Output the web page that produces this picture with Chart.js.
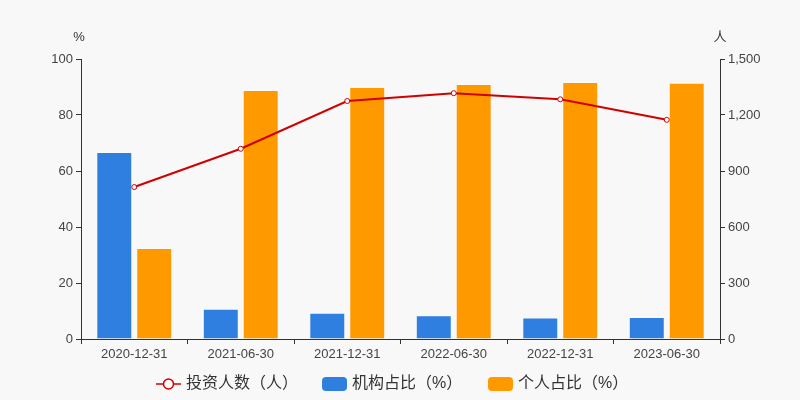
<!DOCTYPE html>
<html>
<head>
<meta charset="utf-8">
<script src="https://cdn.jsdelivr.net/npm/chart.js@4"></script>
<style>
  html, body { margin: 0; padding: 0; background: #f8f8f8; }
  #wrap { width: 800px; height: 400px; }
</style>
</head>
<body>
<div id="wrap"><canvas id="holdersChart" width="800" height="400"></canvas></div>
<script>
// Chart data
const dates = ['2020-12-31', '2021-06-30', '2021-12-31', '2022-06-30', '2022-12-31', '2023-06-30'];
const investors = [814, 1019, 1275, 1317, 1284, 1174];
const institutionPct = [66.8, 10.8, 9.4, 8.5, 7.7, 7.9];
const personalPct = [32.5, 88.9, 90.0, 91.1, 91.8, 91.5];
const pctTicks = [0, 20, 40, 60, 80, 100];
const peopleTicks = [0, 300, 600, 900, 1200, 1500];

const FONT = "'Liberation Sans', 'Noto Sans CJK SC', sans-serif";
const AXIS_COLOR = '#333';
const TEXT_COLOR = '#444';

const legendItems = [
    { label: '投资人数（人）', type: 'line', color: '#d00000' },
    { label: '机构占比（%）', type: 'box', color: '#2e7fe0' },
    { label: '个人占比（%）', type: 'box', color: '#ff9900' }
];

// background, axis units and bottom legend
const decorPlugin = {
    id: 'decor',
    beforeDraw(chart) {
        const ctx = chart.ctx;
        ctx.save();
        ctx.fillStyle = '#f8f8f8';
        ctx.fillRect(0, 0, chart.width, chart.height);
        ctx.restore();
    },
    afterDraw(chart) {
        const ctx = chart.ctx;
        const area = chart.chartArea;
        ctx.save();
        ctx.fillStyle = '#333';
        ctx.font = '13px ' + FONT;
        ctx.textAlign = 'center';
        ctx.textBaseline = 'middle';
        ctx.fillText('%', area.left - 2, 37);
        ctx.fillText('人', area.right, 37);

        // legend: three items on a fixed stride
        ctx.font = '16px ' + FONT;
        const iconW = 25, stride = 166;
        let x = 156;
        const y = 384;
        legendItems.forEach(it => {
            if (it.type === 'line') {
                ctx.strokeStyle = it.color;
                ctx.lineWidth = 1.5;
                ctx.beginPath();
                ctx.moveTo(x, y);
                ctx.lineTo(x + iconW, y);
                ctx.stroke();
                ctx.beginPath();
                ctx.arc(x + iconW / 2, y, 5, 0, Math.PI * 2);
                ctx.fillStyle = '#fff';
                ctx.fill();
                ctx.stroke();
            } else {
                ctx.fillStyle = it.color;
                ctx.beginPath();
                ctx.roundRect(x, y - 7, iconW, 14, 4);
                ctx.fill();
            }
            ctx.fillStyle = '#333';
            ctx.textAlign = 'left';
            ctx.fillText(it.label, x + 30, y);
            x += stride;
        });
        ctx.restore();
    }
};

const ctx = document.getElementById('holdersChart').getContext('2d');
new Chart(ctx, {
    type: 'bar',
    data: {
        labels: dates,
        datasets: [{
            type: 'line',
            label: '投资人数（人）',
            data: investors,
            yAxisID: 'y1',
            borderColor: '#d00000',
            borderWidth: 2,
            pointRadius: 2.5,
            pointBorderWidth: 1,
            pointBackgroundColor: '#fff',
            pointBorderColor: '#d00000',
            tension: 0,
            order: 0
        }, {
            label: '机构占比（%）',
            data: institutionPct,
            yAxisID: 'y',
            backgroundColor: '#2e7fe0',
            borderColor: 'rgba(255,255,255,0.35)',
            borderWidth: 1,
            categoryPercentage: 0.75,
            barPercentage: 0.9,
            order: 1
        }, {
            label: '个人占比（%）',
            data: personalPct,
            yAxisID: 'y',
            backgroundColor: '#ff9900',
            borderColor: 'rgba(255,255,255,0.35)',
            borderWidth: 1,
            categoryPercentage: 0.75,
            barPercentage: 0.9,
            order: 1
        }]
    },
    options: {
        responsive: false,
        animation: false,
        layout: { padding: { top: 59, bottom: 31, left: 0, right: 0 } },
        plugins: {
            legend: { display: false },
            tooltip: { enabled: false }
        },
        scales: {
            x: {
                grid: { offset: true, drawOnChartArea: false, drawTicks: true, tickLength: 5, color: AXIS_COLOR },
                border: { display: true, color: AXIS_COLOR, width: 1 },
                ticks: { color: TEXT_COLOR, font: { size: 13, family: FONT }, padding: 3, maxRotation: 0, autoSkip: false },
                afterFit(scale) { scale.height = 30; }
            },
            y: {
                position: 'left',
                min: 0,
                max: 100,
                afterBuildTicks(scale) { scale.ticks = pctTicks.map(v => ({ value: v })); },
                grid: { drawOnChartArea: false, tickLength: 5, color: AXIS_COLOR },
                border: { display: true, color: AXIS_COLOR, width: 1 },
                ticks: { color: TEXT_COLOR, font: { size: 13, family: FONT }, padding: 3 },
                afterFit(scale) { scale.width = 81; }
            },
            y1: {
                position: 'right',
                min: 0,
                max: 1500,
                afterBuildTicks(scale) { scale.ticks = peopleTicks.map(v => ({ value: v })); },
                grid: { drawOnChartArea: false, tickLength: 5, color: AXIS_COLOR },
                border: { display: true, color: AXIS_COLOR, width: 1 },
                ticks: {
                    color: TEXT_COLOR,
                    font: { size: 13, family: FONT },
                    padding: 3,
                    callback: v => v.toLocaleString('en-US')
                },
                afterFit(scale) { scale.width = 80; }
            }
        }
    },
    plugins: [decorPlugin]
});
</script>
</body>
</html>
